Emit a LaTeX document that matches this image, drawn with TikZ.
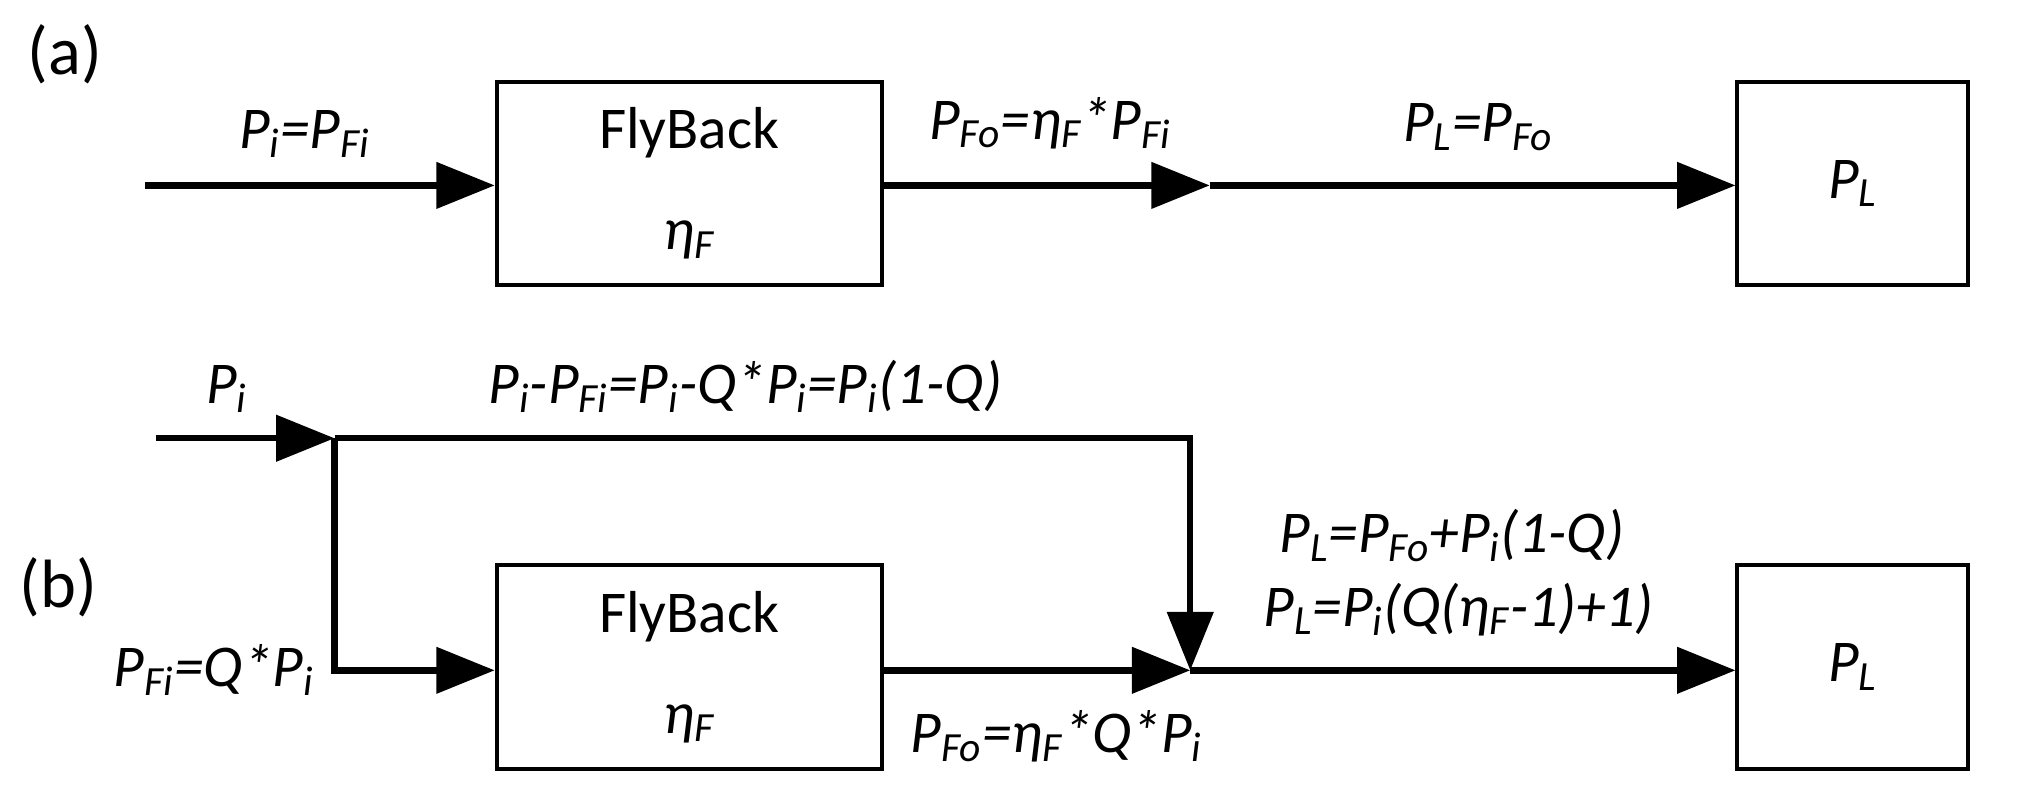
\documentclass[tikz,border=0pt]{standalone}
\usepackage{fontspec}
\setmainfont{Carlito}
\usetikzlibrary{arrows.meta,positioning}
\newcommand{\sbx}[1]{\textsubscript{#1}}
\newcommand{\effy}{\textit{η}}
\begin{document}
\begin{tikzpicture}[x=0.02cm,y=-0.02cm,font=\fontsize{26}{30}\selectfont]
	\tikzset{blk/.style={draw, line width=1.7pt, minimum width=5.94cm, minimum height=3.14cm, inner sep=0}}
	\tikzset{ld/.style={blk, minimum width=3.56cm}}
	\tikzset{ar/.style={-{Triangle[length=0.9cm,width=0.7cm]}, line width=2.8pt}}
	\tikzset{lbl/.style={font=\fontsize{26}{30}\selectfont\itshape}}
	\useasboundingbox (0,0) rectangle (1568,615);
	% (a)
	\node[font=\fontsize{30}{34}\selectfont] (ta) at (50,42) {(a)};
	\node[blk, align=center] (fa) at (531.5,141.5) {FlyBack\\[0.5cm]\textit{η\sbx{F}}};
	\node[ld] (la) at (1429,141.5) {\itshape P\sbx{L}};
	\coordinate (ina) at (112,143);
	\coordinate (mida) at (933,143);
	\draw[ar] (ina) -- (fa.west |- ina);
	\draw[ar] (fa.east |- ina) -- (mida);
	\draw[ar] (mida) -- (la.west |- ina);
	\node[lbl] (pa1) at (235,103) {P\sbx{i}=P\sbx{Fi}};
	\node[lbl] (pa2) at (810,95) {P\sbx{Fo}=\effy\sbx{F}*P\sbx{Fi}};
	\node[lbl] (pa3) at (1140,98) {P\sbx{L}=P\sbx{Fo}};
	% (b)
	\node[font=\fontsize{30}{34}\selectfont] (tb) at (45,453) {(b)};
	\node[blk, align=center] (fb) at (531.5,514.5) {FlyBack\\[0.5cm]\textit{η\sbx{F}}};
	\node[ld] (lb) at (1429,514.5) {\itshape P\sbx{L}};
	\coordinate (inb) at (120,338);
	\coordinate (split) at (258,338);
	\coordinate (join) at (918,517);
	\draw[ar] (inb) -- (split);
	\draw[ar] (split) -- (join |- split) -- (join);
	\draw[ar] (split) -- (split |- join) -- (fb.west |- join);
	\draw[ar] (fb.east |- join) -- (join);
	\draw[ar] (join) -- (lb.west |- join);
	\node[lbl] (pb1) at (175,300) {P\sbx{i}};
	\node[lbl] (pb2) at (575,298) {P\sbx{i}-P\sbx{Fi}=P\sbx{i}-Q*P\sbx{i}=P\sbx{i}(1-Q)};
	\node[lbl] (pb3) at (165,517) {P\sbx{Fi}=Q*P\sbx{i}};
	\node[lbl] (pb4) at (1120,413) {P\sbx{L}=P\sbx{Fo}+P\sbx{i}(1-Q)};
	\node[lbl] (pb5) at (1125,470) {P\sbx{L}=P\sbx{i}(Q(\effy\sbx{F}-1)+1)};
	\node[lbl] (pb6) at (815,568) {P\sbx{Fo}=\effy\sbx{F}*Q*P\sbx{i}};
\end{tikzpicture}
\end{document}
